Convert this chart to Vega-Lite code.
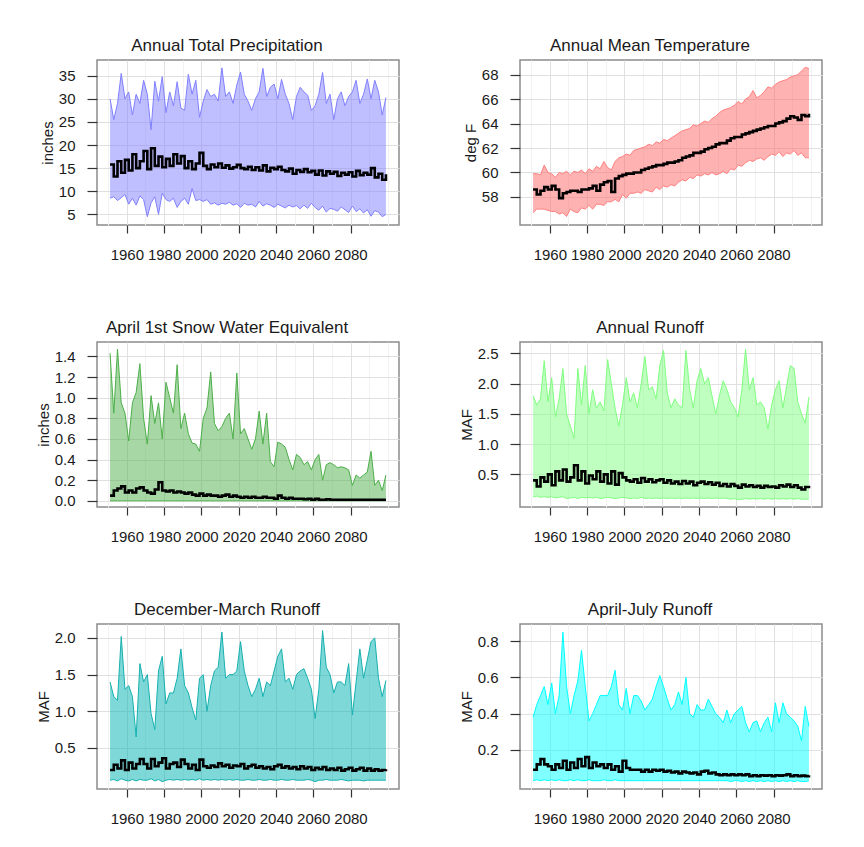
{
"$schema": "https://vega.github.io/schema/vega-lite/v6.json",
"background": "white",
"padding": {"left": 35, "top": 36, "right": 10, "bottom": 10},
"datasets": {
"pr": [
{"yr":1951,"lo":8.5,"hi":30,"md":15.8},{"yr":1953,"lo":8.8,"hi":25.5,"md":13.2},{"yr":1955,"lo":8.0,"hi":29,"md":16.5},{"yr":1957,"lo":8.6,"hi":35.5,"md":14},{"yr":1959,"lo":9.3,"hi":30,"md":16.8},{"yr":1961,"lo":7.2,"hi":31.5,"md":14.5},{"yr":1963,"lo":8.5,"hi":26.5,"md":18},{"yr":1965,"lo":7.0,"hi":31,"md":15},{"yr":1967,"lo":9.0,"hi":29,"md":16.5},{"yr":1969,"lo":8.2,"hi":34,"md":18.7},{"yr":1971,"lo":4.5,"hi":31,"md":14.8},{"yr":1973,"lo":7.5,"hi":23.3,"md":19.3},{"yr":1975,"lo":8.8,"hi":33.8,"md":15.5},{"yr":1977,"lo":5.0,"hi":29.5,"md":17.5},{"yr":1979,"lo":9.6,"hi":34.8,"md":15.2},{"yr":1981,"lo":8.2,"hi":27,"md":17},{"yr":1983,"lo":7.8,"hi":31.5,"md":15.5},{"yr":1985,"lo":8.5,"hi":28.5,"md":18},{"yr":1987,"lo":6.5,"hi":33.7,"md":16},{"yr":1989,"lo":7.8,"hi":28,"md":17.6},{"yr":1991,"lo":8.5,"hi":27.5,"md":15},{"yr":1993,"lo":7.2,"hi":35.3,"md":16.5},{"yr":1995,"lo":10.6,"hi":31,"md":14.8},{"yr":1997,"lo":8,"hi":34,"md":16},{"yr":1999,"lo":8.2,"hi":26,"md":18.3},{"yr":2001,"lo":7.8,"hi":29.5,"md":15.5},{"yr":2003,"lo":8.2,"hi":32,"md":14.8},{"yr":2005,"lo":7.2,"hi":30.5,"md":15.8},{"yr":2007,"lo":7.5,"hi":31,"md":15.2},{"yr":2009,"lo":7.0,"hi":29.5,"md":16},{"yr":2011,"lo":7.4,"hi":36.7,"md":15.1},{"yr":2013,"lo":7.2,"hi":30.5,"md":15.6},{"yr":2015,"lo":7.6,"hi":31.5,"md":14.9},{"yr":2017,"lo":7.0,"hi":29,"md":15.2},{"yr":2019,"lo":7.3,"hi":33,"md":15.7},{"yr":2021,"lo":6.5,"hi":35.8,"md":15},{"yr":2023,"lo":7.4,"hi":31,"md":14.8},{"yr":2025,"lo":7.0,"hi":29.5,"md":15.3},{"yr":2027,"lo":7.2,"hi":27.5,"md":14.6},{"yr":2029,"lo":6.6,"hi":30,"md":15.2},{"yr":2031,"lo":7.8,"hi":31.5,"md":14.5},{"yr":2033,"lo":6.8,"hi":36.6,"md":15.6},{"yr":2035,"lo":7.3,"hi":30.5,"md":14.3},{"yr":2037,"lo":7.0,"hi":32.5,"md":15.1},{"yr":2039,"lo":6.5,"hi":33.2,"md":14.8},{"yr":2041,"lo":7.2,"hi":30,"md":15.3},{"yr":2043,"lo":6.8,"hi":34.2,"md":14.6},{"yr":2045,"lo":6.4,"hi":31,"md":14.3},{"yr":2047,"lo":7.0,"hi":29,"md":14.9},{"yr":2049,"lo":6.6,"hi":25.5,"md":13.8},{"yr":2051,"lo":6.9,"hi":30.5,"md":14.6},{"yr":2053,"lo":6.2,"hi":32.5,"md":14.2},{"yr":2055,"lo":7.0,"hi":31.5,"md":14.8},{"yr":2057,"lo":6.3,"hi":30.8,"md":14.1},{"yr":2059,"lo":7.4,"hi":27.5,"md":14.4},{"yr":2061,"lo":6.5,"hi":28.5,"md":13.6},{"yr":2063,"lo":5.9,"hi":31,"md":14.5},{"yr":2065,"lo":6.8,"hi":35.7,"md":13.4},{"yr":2067,"lo":5.5,"hi":29,"md":14.3},{"yr":2069,"lo":6.3,"hi":31,"md":13.8},{"yr":2071,"lo":6.1,"hi":25.5,"md":14.2},{"yr":2073,"lo":5.7,"hi":30,"md":13.3},{"yr":2075,"lo":6.6,"hi":31.5,"md":14},{"yr":2077,"lo":6.0,"hi":28.5,"md":13.6},{"yr":2079,"lo":5.4,"hi":30.5,"md":14.1},{"yr":2081,"lo":6.8,"hi":31.5,"md":13.2},{"yr":2083,"lo":5.6,"hi":34,"md":14.4},{"yr":2085,"lo":6.2,"hi":29,"md":13.5},{"yr":2087,"lo":5.3,"hi":31,"md":14},{"yr":2089,"lo":6.0,"hi":34.3,"md":13.6},{"yr":2091,"lo":4.6,"hi":30,"md":15},{"yr":2093,"lo":5.8,"hi":34,"md":13},{"yr":2095,"lo":5.5,"hi":31.5,"md":13.8},{"yr":2097,"lo":4.5,"hi":26.5,"md":12.5},{"yr":2099,"lo":5.0,"hi":30.3,"md":13.7}
],
"tm": [
{"yr":1951,"lo":56.7,"hi":59.9,"md":58.6},{"yr":1953,"lo":57.0,"hi":59.9,"md":58.2},{"yr":1955,"lo":57.0,"hi":59.8,"md":58.5},{"yr":1957,"lo":57.0,"hi":60.6,"md":58.8},{"yr":1959,"lo":56.9,"hi":60.0,"md":58.6},{"yr":1961,"lo":56.8,"hi":59.9,"md":58.9},{"yr":1963,"lo":56.8,"hi":59.6,"md":58.6},{"yr":1965,"lo":56.6,"hi":60.0,"md":57.9},{"yr":1967,"lo":56.7,"hi":59.9,"md":58.3},{"yr":1969,"lo":56.4,"hi":60.1,"md":58.4},{"yr":1971,"lo":57.0,"hi":59.8,"md":58.5},{"yr":1973,"lo":56.8,"hi":60.1,"md":58.5},{"yr":1975,"lo":56.7,"hi":60.0,"md":58.4},{"yr":1977,"lo":57.1,"hi":60.2,"md":58.6},{"yr":1979,"lo":57.0,"hi":59.9,"md":58.6},{"yr":1981,"lo":57.3,"hi":60.3,"md":58.7},{"yr":1983,"lo":57.0,"hi":60.1,"md":58.9},{"yr":1985,"lo":57.4,"hi":60.5,"md":58.5},{"yr":1987,"lo":57.4,"hi":60.3,"md":59.0},{"yr":1989,"lo":57.3,"hi":60.9,"md":59.2},{"yr":1991,"lo":57.6,"hi":60.4,"md":59.3},{"yr":1993,"lo":57.6,"hi":60.2,"md":58.4},{"yr":1995,"lo":57.8,"hi":60.9,"md":59.5},{"yr":1997,"lo":57.6,"hi":61.2,"md":59.7},{"yr":1999,"lo":58.2,"hi":61.3,"md":59.8},{"yr":2001,"lo":57.9,"hi":61.5,"md":59.9},{"yr":2003,"lo":58.3,"hi":61.4,"md":59.9},{"yr":2005,"lo":58.3,"hi":61.8,"md":60.0},{"yr":2007,"lo":58.4,"hi":61.9,"md":60.0},{"yr":2009,"lo":58.3,"hi":62.0,"md":60.2},{"yr":2011,"lo":58.6,"hi":62.1,"md":60.3},{"yr":2013,"lo":58.5,"hi":62.3,"md":60.4},{"yr":2015,"lo":58.4,"hi":62.2,"md":60.5},{"yr":2017,"lo":58.8,"hi":62.5,"md":60.6},{"yr":2019,"lo":58.6,"hi":62.4,"md":60.6},{"yr":2021,"lo":58.9,"hi":62.7,"md":60.7},{"yr":2023,"lo":58.8,"hi":62.6,"md":60.8},{"yr":2025,"lo":59.0,"hi":62.8,"md":60.8},{"yr":2027,"lo":58.9,"hi":63.0,"md":60.9},{"yr":2029,"lo":59.2,"hi":63.2,"md":61.0},{"yr":2031,"lo":59.4,"hi":63.4,"md":61.2},{"yr":2033,"lo":59.3,"hi":63.5,"md":61.3},{"yr":2035,"lo":59.6,"hi":63.6,"md":61.4},{"yr":2037,"lo":59.5,"hi":63.9,"md":61.6},{"yr":2039,"lo":59.8,"hi":63.8,"md":61.6},{"yr":2041,"lo":59.7,"hi":64.0,"md":61.7},{"yr":2043,"lo":59.9,"hi":64.2,"md":61.9},{"yr":2045,"lo":59.8,"hi":64.1,"md":62.0},{"yr":2047,"lo":60.0,"hi":64.4,"md":62.1},{"yr":2049,"lo":59.8,"hi":64.6,"md":62.3},{"yr":2051,"lo":59.9,"hi":64.9,"md":62.4},{"yr":2053,"lo":60.1,"hi":65.1,"md":62.4},{"yr":2055,"lo":59.9,"hi":65.2,"md":62.6},{"yr":2057,"lo":60.3,"hi":65.3,"md":62.8},{"yr":2059,"lo":60.2,"hi":65.5,"md":62.9},{"yr":2061,"lo":60.6,"hi":65.8,"md":62.9},{"yr":2063,"lo":60.5,"hi":65.6,"md":63.1},{"yr":2065,"lo":60.8,"hi":66.0,"md":63.2},{"yr":2067,"lo":61.0,"hi":66.2,"md":63.3},{"yr":2069,"lo":60.9,"hi":66.7,"md":63.4},{"yr":2071,"lo":61.1,"hi":66.1,"md":63.5},{"yr":2073,"lo":61.2,"hi":66.3,"md":63.6},{"yr":2075,"lo":61.0,"hi":66.6,"md":63.7},{"yr":2077,"lo":61.3,"hi":67.0,"md":63.8},{"yr":2079,"lo":61.5,"hi":66.9,"md":63.8},{"yr":2081,"lo":61.4,"hi":67.2,"md":64.0},{"yr":2083,"lo":61.7,"hi":67.4,"md":64.1},{"yr":2085,"lo":61.3,"hi":67.5,"md":64.2},{"yr":2087,"lo":61.6,"hi":67.6,"md":64.4},{"yr":2089,"lo":61.5,"hi":67.8,"md":64.6},{"yr":2091,"lo":61.8,"hi":67.9,"md":64.5},{"yr":2093,"lo":61.4,"hi":68.0,"md":64.3},{"yr":2095,"lo":61.6,"hi":68.3,"md":64.7},{"yr":2097,"lo":61.2,"hi":68.6,"md":64.6},{"yr":2099,"lo":61.2,"hi":68.5,"md":64.8}
],
"sw": [
{"yr":1951,"lo":0,"hi":1.43,"md":0.05},{"yr":1953,"lo":0,"hi":0.85,"md":0.10},{"yr":1955,"lo":0,"hi":1.47,"md":0.12},{"yr":1957,"lo":0,"hi":0.95,"md":0.14},{"yr":1959,"lo":0,"hi":0.85,"md":0.08},{"yr":1961,"lo":0,"hi":0.58,"md":0.10},{"yr":1963,"lo":0,"hi":0.95,"md":0.08},{"yr":1965,"lo":0,"hi":1.05,"md":0.12},{"yr":1967,"lo":0,"hi":1.33,"md":0.13},{"yr":1969,"lo":0,"hi":0.8,"md":0.10},{"yr":1971,"lo":0,"hi":0.55,"md":0.08},{"yr":1973,"lo":0,"hi":1.02,"md":0.07},{"yr":1975,"lo":0,"hi":0.75,"md":0.11},{"yr":1977,"lo":0,"hi":0.95,"md":0.18},{"yr":1979,"lo":0,"hi":0.6,"md":0.10},{"yr":1981,"lo":0,"hi":1.15,"md":0.09},{"yr":1983,"lo":0,"hi":1.0,"md":0.10},{"yr":1985,"lo":0,"hi":0.85,"md":0.08},{"yr":1987,"lo":0,"hi":1.32,"md":0.09},{"yr":1989,"lo":0,"hi":0.7,"md":0.08},{"yr":1991,"lo":0,"hi":0.85,"md":0.07},{"yr":1993,"lo":0,"hi":0.65,"md":0.08},{"yr":1995,"lo":0,"hi":0.56,"md":0.06},{"yr":1997,"lo":0,"hi":0.55,"md":0.05},{"yr":1999,"lo":0,"hi":0.48,"md":0.07},{"yr":2001,"lo":0,"hi":0.8,"md":0.05},{"yr":2003,"lo":0,"hi":0.9,"md":0.06},{"yr":2005,"lo":0,"hi":1.25,"md":0.05},{"yr":2007,"lo":0,"hi":0.75,"md":0.05},{"yr":2009,"lo":0,"hi":0.68,"md":0.04},{"yr":2011,"lo":0,"hi":0.72,"md":0.05},{"yr":2013,"lo":0,"hi":0.8,"md":0.06},{"yr":2015,"lo":0,"hi":0.85,"md":0.04},{"yr":2017,"lo":0,"hi":0.6,"md":0.05},{"yr":2019,"lo":0,"hi":1.24,"md":0.04},{"yr":2021,"lo":0,"hi":0.65,"md":0.03},{"yr":2023,"lo":0,"hi":0.7,"md":0.04},{"yr":2025,"lo":0,"hi":0.6,"md":0.03},{"yr":2027,"lo":0,"hi":0.5,"md":0.04},{"yr":2029,"lo":0,"hi":0.6,"md":0.03},{"yr":2031,"lo":0,"hi":0.87,"md":0.03},{"yr":2033,"lo":0,"hi":0.55,"md":0.04},{"yr":2035,"lo":0,"hi":0.85,"md":0.03},{"yr":2037,"lo":0,"hi":0.38,"md":0.03},{"yr":2039,"lo":0,"hi":0.33,"md":0.02},{"yr":2041,"lo":0,"hi":0.57,"md":0.05},{"yr":2043,"lo":0,"hi":0.55,"md":0.03},{"yr":2045,"lo":0,"hi":0.52,"md":0.02},{"yr":2047,"lo":0,"hi":0.4,"md":0.03},{"yr":2049,"lo":0,"hi":0.3,"md":0.02},{"yr":2051,"lo":0,"hi":0.45,"md":0.02},{"yr":2053,"lo":0,"hi":0.42,"md":0.02},{"yr":2055,"lo":0,"hi":0.35,"md":0.015},{"yr":2057,"lo":0,"hi":0.38,"md":0.02},{"yr":2059,"lo":0,"hi":0.3,"md":0.01},{"yr":2061,"lo":0,"hi":0.4,"md":0.02},{"yr":2063,"lo":0,"hi":0.45,"md":0.01},{"yr":2065,"lo":0,"hi":0.2,"md":0.01},{"yr":2067,"lo":0,"hi":0.35,"md":0.015},{"yr":2069,"lo":0,"hi":0.37,"md":0.01},{"yr":2071,"lo":0,"hi":0.35,"md":0.01},{"yr":2073,"lo":0,"hi":0.32,"md":0.01},{"yr":2075,"lo":0,"hi":0.33,"md":0.01},{"yr":2077,"lo":0,"hi":0.32,"md":0.01},{"yr":2079,"lo":0,"hi":0.3,"md":0.01},{"yr":2081,"lo":0,"hi":0.15,"md":0.01},{"yr":2083,"lo":0,"hi":0.25,"md":0.01},{"yr":2085,"lo":0,"hi":0.22,"md":0.01},{"yr":2087,"lo":0,"hi":0.25,"md":0.01},{"yr":2089,"lo":0,"hi":0.28,"md":0.01},{"yr":2091,"lo":0,"hi":0.48,"md":0.01},{"yr":2093,"lo":0,"hi":0.15,"md":0.01},{"yr":2095,"lo":0,"hi":0.2,"md":0.01},{"yr":2097,"lo":0,"hi":0.1,"md":0.01},{"yr":2099,"lo":0,"hi":0.25,"md":0.01}
],
"ar": [
{"yr":1951,"lo":0.13,"hi":1.8,"md":0.40},{"yr":1953,"lo":0.14,"hi":1.65,"md":0.30},{"yr":1955,"lo":0.12,"hi":1.75,"md":0.45},{"yr":1957,"lo":0.13,"hi":2.38,"md":0.38},{"yr":1959,"lo":0.12,"hi":1.7,"md":0.50},{"yr":1961,"lo":0.13,"hi":2.1,"md":0.32},{"yr":1963,"lo":0.11,"hi":1.45,"md":0.55},{"yr":1965,"lo":0.12,"hi":1.75,"md":0.40},{"yr":1967,"lo":0.13,"hi":2.25,"md":0.58},{"yr":1969,"lo":0.10,"hi":1.5,"md":0.38},{"yr":1971,"lo":0.11,"hi":1.3,"md":0.45},{"yr":1973,"lo":0.12,"hi":1.1,"md":0.65},{"yr":1975,"lo":0.10,"hi":2.25,"md":0.40},{"yr":1977,"lo":0.12,"hi":1.65,"md":0.55},{"yr":1979,"lo":0.11,"hi":2.3,"md":0.35},{"yr":1981,"lo":0.12,"hi":1.5,"md":0.48},{"yr":1983,"lo":0.11,"hi":1.9,"md":0.42},{"yr":1985,"lo":0.12,"hi":1.6,"md":0.55},{"yr":1987,"lo":0.10,"hi":1.7,"md":0.38},{"yr":1989,"lo":0.11,"hi":1.55,"md":0.50},{"yr":1991,"lo":0.12,"hi":2.4,"md":0.35},{"yr":1993,"lo":0.11,"hi":2.0,"md":0.55},{"yr":1995,"lo":0.10,"hi":1.6,"md":0.33},{"yr":1997,"lo":0.11,"hi":1.3,"md":0.52},{"yr":1999,"lo":0.12,"hi":1.65,"md":0.45},{"yr":2001,"lo":0.11,"hi":2.1,"md":0.40},{"yr":2003,"lo":0.10,"hi":1.7,"md":0.38},{"yr":2005,"lo":0.11,"hi":1.85,"md":0.42},{"yr":2007,"lo":0.10,"hi":1.6,"md":0.36},{"yr":2009,"lo":0.12,"hi":2.0,"md":0.44},{"yr":2011,"lo":0.10,"hi":2.45,"md":0.38},{"yr":2013,"lo":0.11,"hi":1.9,"md":0.42},{"yr":2015,"lo":0.10,"hi":1.95,"md":0.37},{"yr":2017,"lo":0.11,"hi":1.75,"md":0.40},{"yr":2019,"lo":0.10,"hi":2.3,"md":0.42},{"yr":2021,"lo":0.11,"hi":2.55,"md":0.36},{"yr":2023,"lo":0.10,"hi":1.85,"md":0.40},{"yr":2025,"lo":0.11,"hi":1.6,"md":0.35},{"yr":2027,"lo":0.10,"hi":1.75,"md":0.38},{"yr":2029,"lo":0.11,"hi":1.65,"md":0.34},{"yr":2031,"lo":0.10,"hi":1.6,"md":0.39},{"yr":2033,"lo":0.11,"hi":2.55,"md":0.35},{"yr":2035,"lo":0.10,"hi":1.9,"md":0.38},{"yr":2037,"lo":0.11,"hi":1.6,"md":0.32},{"yr":2039,"lo":0.10,"hi":2.05,"md":0.36},{"yr":2041,"lo":0.11,"hi":2.25,"md":0.38},{"yr":2043,"lo":0.10,"hi":2.0,"md":0.34},{"yr":2045,"lo":0.11,"hi":2.1,"md":0.37},{"yr":2047,"lo":0.10,"hi":1.8,"md":0.33},{"yr":2049,"lo":0.11,"hi":1.5,"md":0.36},{"yr":2051,"lo":0.10,"hi":1.8,"md":0.31},{"yr":2053,"lo":0.11,"hi":2.05,"md":0.34},{"yr":2055,"lo":0.10,"hi":1.9,"md":0.30},{"yr":2057,"lo":0.09,"hi":1.7,"md":0.34},{"yr":2059,"lo":0.10,"hi":1.6,"md":0.31},{"yr":2061,"lo":0.08,"hi":1.45,"md":0.28},{"yr":2063,"lo":0.09,"hi":1.9,"md":0.33},{"yr":2065,"lo":0.10,"hi":2.57,"md":0.30},{"yr":2067,"lo":0.09,"hi":1.9,"md":0.32},{"yr":2069,"lo":0.10,"hi":2.1,"md":0.29},{"yr":2071,"lo":0.09,"hi":1.65,"md":0.31},{"yr":2073,"lo":0.10,"hi":1.7,"md":0.28},{"yr":2075,"lo":0.09,"hi":1.6,"md":0.31},{"yr":2077,"lo":0.10,"hi":1.25,"md":0.29},{"yr":2079,"lo":0.09,"hi":1.65,"md":0.30},{"yr":2081,"lo":0.10,"hi":1.9,"md":0.28},{"yr":2083,"lo":0.09,"hi":2.05,"md":0.32},{"yr":2085,"lo":0.10,"hi":1.6,"md":0.30},{"yr":2087,"lo":0.09,"hi":1.95,"md":0.33},{"yr":2089,"lo":0.10,"hi":2.3,"md":0.29},{"yr":2091,"lo":0.09,"hi":2.25,"md":0.32},{"yr":2093,"lo":0.10,"hi":1.7,"md":0.28},{"yr":2095,"lo":0.09,"hi":1.5,"md":0.25},{"yr":2097,"lo":0.09,"hi":1.35,"md":0.29},{"yr":2099,"lo":0.09,"hi":1.78,"md":0.31}
],
"dm": [
{"yr":1951,"lo":0.06,"hi":1.4,"md":0.20},{"yr":1953,"lo":0.07,"hi":1.2,"md":0.27},{"yr":1955,"lo":0.05,"hi":1.15,"md":0.22},{"yr":1957,"lo":0.08,"hi":2.02,"md":0.33},{"yr":1959,"lo":0.06,"hi":1.3,"md":0.20},{"yr":1961,"lo":0.05,"hi":1.35,"md":0.30},{"yr":1963,"lo":0.07,"hi":1.2,"md":0.22},{"yr":1965,"lo":0.05,"hi":0.65,"md":0.28},{"yr":1967,"lo":0.07,"hi":1.65,"md":0.35},{"yr":1969,"lo":0.06,"hi":1.4,"md":0.28},{"yr":1971,"lo":0.06,"hi":1.5,"md":0.22},{"yr":1973,"lo":0.08,"hi":0.97,"md":0.35},{"yr":1975,"lo":0.05,"hi":0.75,"md":0.25},{"yr":1977,"lo":0.07,"hi":1.55,"md":0.30},{"yr":1979,"lo":0.04,"hi":1.75,"md":0.36},{"yr":1981,"lo":0.06,"hi":1.1,"md":0.22},{"yr":1983,"lo":0.07,"hi":1.25,"md":0.28},{"yr":1985,"lo":0.06,"hi":1.25,"md":0.30},{"yr":1987,"lo":0.07,"hi":1.45,"md":0.24},{"yr":1989,"lo":0.06,"hi":1.85,"md":0.34},{"yr":1991,"lo":0.07,"hi":1.35,"md":0.28},{"yr":1993,"lo":0.06,"hi":1.25,"md":0.22},{"yr":1995,"lo":0.07,"hi":1.05,"md":0.27},{"yr":1997,"lo":0.06,"hi":0.88,"md":0.20},{"yr":1999,"lo":0.08,"hi":1.45,"md":0.34},{"yr":2001,"lo":0.06,"hi":1.5,"md":0.25},{"yr":2003,"lo":0.07,"hi":1.0,"md":0.23},{"yr":2005,"lo":0.06,"hi":1.35,"md":0.26},{"yr":2007,"lo":0.07,"hi":1.55,"md":0.24},{"yr":2009,"lo":0.06,"hi":1.6,"md":0.29},{"yr":2011,"lo":0.07,"hi":2.08,"md":0.25},{"yr":2013,"lo":0.06,"hi":1.45,"md":0.27},{"yr":2015,"lo":0.07,"hi":1.5,"md":0.23},{"yr":2017,"lo":0.06,"hi":1.5,"md":0.26},{"yr":2019,"lo":0.07,"hi":1.55,"md":0.25},{"yr":2021,"lo":0.06,"hi":1.95,"md":0.28},{"yr":2023,"lo":0.06,"hi":1.55,"md":0.22},{"yr":2025,"lo":0.07,"hi":1.35,"md":0.25},{"yr":2027,"lo":0.06,"hi":1.2,"md":0.27},{"yr":2029,"lo":0.06,"hi":1.3,"md":0.23},{"yr":2031,"lo":0.07,"hi":1.45,"md":0.25},{"yr":2033,"lo":0.06,"hi":1.2,"md":0.22},{"yr":2035,"lo":0.06,"hi":1.4,"md":0.24},{"yr":2037,"lo":0.07,"hi":1.35,"md":0.21},{"yr":2039,"lo":0.06,"hi":1.55,"md":0.25},{"yr":2041,"lo":0.06,"hi":1.75,"md":0.27},{"yr":2043,"lo":0.07,"hi":1.85,"md":0.23},{"yr":2045,"lo":0.06,"hi":1.4,"md":0.25},{"yr":2047,"lo":0.06,"hi":1.45,"md":0.22},{"yr":2049,"lo":0.07,"hi":1.3,"md":0.24},{"yr":2051,"lo":0.06,"hi":1.5,"md":0.21},{"yr":2053,"lo":0.06,"hi":1.55,"md":0.25},{"yr":2055,"lo":0.06,"hi":1.58,"md":0.22},{"yr":2057,"lo":0.07,"hi":1.45,"md":0.24},{"yr":2059,"lo":0.06,"hi":1.3,"md":0.20},{"yr":2061,"lo":0.04,"hi":0.9,"md":0.23},{"yr":2063,"lo":0.06,"hi":1.3,"md":0.21},{"yr":2065,"lo":0.06,"hi":2.1,"md":0.24},{"yr":2067,"lo":0.07,"hi":1.6,"md":0.20},{"yr":2069,"lo":0.06,"hi":1.5,"md":0.22},{"yr":2071,"lo":0.06,"hi":1.25,"md":0.20},{"yr":2073,"lo":0.06,"hi":1.4,"md":0.23},{"yr":2075,"lo":0.07,"hi":1.4,"md":0.19},{"yr":2077,"lo":0.06,"hi":1.35,"md":0.21},{"yr":2079,"lo":0.05,"hi":1.65,"md":0.23},{"yr":2081,"lo":0.06,"hi":0.95,"md":0.19},{"yr":2083,"lo":0.06,"hi":1.4,"md":0.21},{"yr":2085,"lo":0.06,"hi":1.85,"md":0.23},{"yr":2087,"lo":0.05,"hi":1.45,"md":0.19},{"yr":2089,"lo":0.06,"hi":1.7,"md":0.22},{"yr":2091,"lo":0.06,"hi":1.95,"md":0.19},{"yr":2093,"lo":0.06,"hi":2.0,"md":0.21},{"yr":2095,"lo":0.06,"hi":1.45,"md":0.19},{"yr":2097,"lo":0.06,"hi":1.2,"md":0.20},{"yr":2099,"lo":0.06,"hi":1.42,"md":0.21}
],
"aj": [
{"yr":1951,"lo":0.03,"hi":0.38,"md":0.09},{"yr":1953,"lo":0.035,"hi":0.45,"md":0.12},{"yr":1955,"lo":0.03,"hi":0.5,"md":0.15},{"yr":1957,"lo":0.035,"hi":0.55,"md":0.12},{"yr":1959,"lo":0.03,"hi":0.45,"md":0.11},{"yr":1961,"lo":0.035,"hi":0.57,"md":0.09},{"yr":1963,"lo":0.03,"hi":0.4,"md":0.12},{"yr":1965,"lo":0.035,"hi":0.5,"md":0.10},{"yr":1967,"lo":0.03,"hi":0.85,"md":0.14},{"yr":1969,"lo":0.03,"hi":0.55,"md":0.09},{"yr":1971,"lo":0.035,"hi":0.4,"md":0.13},{"yr":1973,"lo":0.03,"hi":0.5,"md":0.10},{"yr":1975,"lo":0.035,"hi":0.58,"md":0.15},{"yr":1977,"lo":0.03,"hi":0.75,"md":0.11},{"yr":1979,"lo":0.03,"hi":0.55,"md":0.16},{"yr":1981,"lo":0.035,"hi":0.36,"md":0.10},{"yr":1983,"lo":0.03,"hi":0.4,"md":0.13},{"yr":1985,"lo":0.03,"hi":0.45,"md":0.11},{"yr":1987,"lo":0.03,"hi":0.5,"md":0.12},{"yr":1989,"lo":0.035,"hi":0.5,"md":0.10},{"yr":1991,"lo":0.03,"hi":0.5,"md":0.12},{"yr":1993,"lo":0.03,"hi":0.55,"md":0.09},{"yr":1995,"lo":0.035,"hi":0.64,"md":0.11},{"yr":1997,"lo":0.03,"hi":0.45,"md":0.08},{"yr":1999,"lo":0.03,"hi":0.42,"md":0.14},{"yr":2001,"lo":0.03,"hi":0.54,"md":0.10},{"yr":2003,"lo":0.03,"hi":0.4,"md":0.09},{"yr":2005,"lo":0.03,"hi":0.5,"md":0.09},{"yr":2007,"lo":0.03,"hi":0.5,"md":0.09},{"yr":2009,"lo":0.03,"hi":0.47,"md":0.08},{"yr":2011,"lo":0.03,"hi":0.42,"md":0.09},{"yr":2013,"lo":0.03,"hi":0.45,"md":0.08},{"yr":2015,"lo":0.03,"hi":0.48,"md":0.09},{"yr":2017,"lo":0.03,"hi":0.55,"md":0.085},{"yr":2019,"lo":0.03,"hi":0.61,"md":0.09},{"yr":2021,"lo":0.03,"hi":0.55,"md":0.08},{"yr":2023,"lo":0.03,"hi":0.48,"md":0.085},{"yr":2025,"lo":0.03,"hi":0.42,"md":0.075},{"yr":2027,"lo":0.03,"hi":0.45,"md":0.08},{"yr":2029,"lo":0.03,"hi":0.52,"md":0.07},{"yr":2031,"lo":0.03,"hi":0.45,"md":0.08},{"yr":2033,"lo":0.03,"hi":0.6,"md":0.075},{"yr":2035,"lo":0.03,"hi":0.4,"md":0.07},{"yr":2037,"lo":0.03,"hi":0.38,"md":0.075},{"yr":2039,"lo":0.03,"hi":0.45,"md":0.065},{"yr":2041,"lo":0.03,"hi":0.42,"md":0.08},{"yr":2043,"lo":0.03,"hi":0.42,"md":0.085},{"yr":2045,"lo":0.03,"hi":0.48,"md":0.07},{"yr":2047,"lo":0.03,"hi":0.44,"md":0.075},{"yr":2049,"lo":0.03,"hi":0.4,"md":0.065},{"yr":2051,"lo":0.03,"hi":0.38,"md":0.06},{"yr":2053,"lo":0.03,"hi":0.35,"md":0.065},{"yr":2055,"lo":0.03,"hi":0.42,"md":0.06},{"yr":2057,"lo":0.025,"hi":0.35,"md":0.065},{"yr":2059,"lo":0.03,"hi":0.4,"md":0.06},{"yr":2061,"lo":0.03,"hi":0.42,"md":0.065},{"yr":2063,"lo":0.025,"hi":0.44,"md":0.06},{"yr":2065,"lo":0.03,"hi":0.35,"md":0.065},{"yr":2067,"lo":0.025,"hi":0.3,"md":0.055},{"yr":2069,"lo":0.03,"hi":0.35,"md":0.06},{"yr":2071,"lo":0.025,"hi":0.36,"md":0.055},{"yr":2073,"lo":0.03,"hi":0.3,"md":0.06},{"yr":2075,"lo":0.025,"hi":0.35,"md":0.058},{"yr":2077,"lo":0.03,"hi":0.38,"md":0.06},{"yr":2079,"lo":0.025,"hi":0.3,"md":0.055},{"yr":2081,"lo":0.03,"hi":0.46,"md":0.06},{"yr":2083,"lo":0.025,"hi":0.35,"md":0.058},{"yr":2085,"lo":0.03,"hi":0.46,"md":0.06},{"yr":2087,"lo":0.025,"hi":0.4,"md":0.065},{"yr":2089,"lo":0.03,"hi":0.38,"md":0.055},{"yr":2091,"lo":0.025,"hi":0.36,"md":0.06},{"yr":2093,"lo":0.03,"hi":0.33,"md":0.055},{"yr":2095,"lo":0.025,"hi":0.25,"md":0.058},{"yr":2097,"lo":0.025,"hi":0.44,"md":0.055},{"yr":2099,"lo":0.03,"hi":0.33,"md":0.06}
]
},
"columns": 2,
"spacing": {"row": 55, "column": 58},
"concat": [
{
"title": "Annual Total Precipitation",
"width": 302, "height": 165,
"data": {"name": "pr"},
"resolve": {"axis": {"y": "independent"}},
"encoding": {"x": {"field": "yr", "type": "quantitative", "title": null, "scale": {"domain": [1944, 2106], "nice": false, "zero": false},
  "axis": {"values": [1950,1960,1970,1980,1990,2000,2010,2020,2030,2040,2050,2060,2070,2080,2090,2100], "format": "d", "labelOverlap": false,
   "labelExpr": "datum.value % 20 == 0 && datum.value <= 2080 ? datum.label : ''",
   "tickOpacity": {"condition": {"test": "datum.value % 20 == 0 && datum.value <= 2080", "value": 1}, "value": 0},
   "gridColor": {"condition": {"test": "datum.value % 20 == 0 && datum.value <= 2080", "value": "#e0e0e0"}, "value": "#f2f2f2"}}}},
"layer": [
 {"mark": {"type": "area", "color": "#8080ff", "fillOpacity": 0.5},
  "encoding": {"y": {"field": "lo", "type": "quantitative", "title": "inches", "scale": {"domain": [2.7, 38.4], "nice": false, "zero": false},
   "axis": {"values": [5,10,15,20,25,30,35], "format": "d", "gridColor": "#e0e0e0", "orient": "left"}},
   "y2": {"field": "hi"}}},
 {"mark": {"type": "line", "color": "#8080ff", "strokeWidth": 1}, "encoding": {"y": {"field": "hi", "type": "quantitative", "axis": {"values": [7.5,12.5,17.5,22.5,27.5,32.5,37.5], "labels": false, "ticks": false, "domain": false, "title": null, "gridColor": "#f2f2f2", "orient": "right"}}}},
 {"mark": {"type": "line", "color": "#8080ff", "strokeWidth": 1}, "encoding": {"y": {"field": "lo", "type": "quantitative", "axis": null}}},
 {"mark": {"type": "line", "interpolate": "step-after", "color": "#000000", "strokeWidth": 2.6}, "encoding": {"y": {"field": "md", "type": "quantitative", "axis": null}}}
]
},
{
"title": "Annual Mean Temperature",
"width": 302, "height": 165,
"data": {"name": "tm"},
"resolve": {"axis": {"y": "independent"}},
"encoding": {"x": {"field": "yr", "type": "quantitative", "title": null, "scale": {"domain": [1944, 2106], "nice": false, "zero": false},
  "axis": {"values": [1950,1960,1970,1980,1990,2000,2010,2020,2030,2040,2050,2060,2070,2080,2090,2100], "format": "d", "labelOverlap": false,
   "labelExpr": "datum.value % 20 == 0 && datum.value <= 2080 ? datum.label : ''",
   "tickOpacity": {"condition": {"test": "datum.value % 20 == 0 && datum.value <= 2080", "value": 1}, "value": 0},
   "gridColor": {"condition": {"test": "datum.value % 20 == 0 && datum.value <= 2080", "value": "#e0e0e0"}, "value": "#f2f2f2"}}}},
"layer": [
 {"mark": {"type": "area", "color": "#ff6666", "fillOpacity": 0.5},
  "encoding": {"y": {"field": "lo", "type": "quantitative", "title": "deg F", "scale": {"domain": [55.7, 69.2], "nice": false, "zero": false},
   "axis": {"values": [58,60,62,64,66,68], "format": "d", "gridColor": "#e0e0e0", "orient": "left"}},
   "y2": {"field": "hi"}}},
 {"mark": {"type": "line", "color": "#ff7f7f", "strokeWidth": 1}, "encoding": {"y": {"field": "hi", "type": "quantitative", "axis": {"values": [56,57,59,61,63,65,67,69], "labels": false, "ticks": false, "domain": false, "title": null, "gridColor": "#f2f2f2", "orient": "right"}}}},
 {"mark": {"type": "line", "color": "#ff7f7f", "strokeWidth": 1}, "encoding": {"y": {"field": "lo", "type": "quantitative", "axis": null}}},
 {"mark": {"type": "line", "interpolate": "step-after", "color": "#000000", "strokeWidth": 2.6}, "encoding": {"y": {"field": "md", "type": "quantitative", "axis": null}}}
]
},
{
"title": "April 1st Snow Water Equivalent",
"width": 302, "height": 165,
"data": {"name": "sw"},
"resolve": {"axis": {"y": "independent"}},
"encoding": {"x": {"field": "yr", "type": "quantitative", "title": null, "scale": {"domain": [1944, 2106], "nice": false, "zero": false},
  "axis": {"values": [1950,1960,1970,1980,1990,2000,2010,2020,2030,2040,2050,2060,2070,2080,2090,2100], "format": "d", "labelOverlap": false,
   "labelExpr": "datum.value % 20 == 0 && datum.value <= 2080 ? datum.label : ''",
   "tickOpacity": {"condition": {"test": "datum.value % 20 == 0 && datum.value <= 2080", "value": 1}, "value": 0},
   "gridColor": {"condition": {"test": "datum.value % 20 == 0 && datum.value <= 2080", "value": "#e0e0e0"}, "value": "#f2f2f2"}}}},
"layer": [
 {"mark": {"type": "area", "color": "#4daf4a", "fillOpacity": 0.5},
  "encoding": {"y": {"field": "lo", "type": "quantitative", "title": "inches", "scale": {"domain": [-0.06, 1.54], "nice": false, "zero": false},
   "axis": {"values": [0,0.2,0.4,0.6,0.8,1,1.2,1.4], "format": ".1f", "gridColor": "#e0e0e0", "orient": "left"}},
   "y2": {"field": "hi"}}},
 {"mark": {"type": "line", "color": "#4daf4a", "strokeWidth": 1}, "encoding": {"y": {"field": "hi", "type": "quantitative", "axis": {"values": [0.1,0.3,0.5,0.7,0.9,1.1,1.3,1.5], "labels": false, "ticks": false, "domain": false, "title": null, "gridColor": "#f2f2f2", "orient": "right"}}}},
 {"mark": {"type": "line", "color": "#4daf4a", "strokeWidth": 1}, "encoding": {"y": {"field": "lo", "type": "quantitative", "axis": null}}},
 {"mark": {"type": "line", "interpolate": "step-after", "color": "#000000", "strokeWidth": 2.6}, "encoding": {"y": {"field": "md", "type": "quantitative", "axis": null}}}
]
},
{
"title": "Annual Runoff",
"width": 302, "height": 165,
"data": {"name": "ar"},
"resolve": {"axis": {"y": "independent"}},
"encoding": {"x": {"field": "yr", "type": "quantitative", "title": null, "scale": {"domain": [1944, 2106], "nice": false, "zero": false},
  "axis": {"values": [1950,1960,1970,1980,1990,2000,2010,2020,2030,2040,2050,2060,2070,2080,2090,2100], "format": "d", "labelOverlap": false,
   "labelExpr": "datum.value % 20 == 0 && datum.value <= 2080 ? datum.label : ''",
   "tickOpacity": {"condition": {"test": "datum.value % 20 == 0 && datum.value <= 2080", "value": 1}, "value": 0},
   "gridColor": {"condition": {"test": "datum.value % 20 == 0 && datum.value <= 2080", "value": "#e0e0e0"}, "value": "#f2f2f2"}}}},
"layer": [
 {"mark": {"type": "area", "color": "#7fff7f", "fillOpacity": 0.5},
  "encoding": {"y": {"field": "lo", "type": "quantitative", "title": "MAF", "scale": {"domain": [-0.04, 2.69], "nice": false, "zero": false},
   "axis": {"values": [0.5,1,1.5,2,2.5], "format": ".1f", "gridColor": "#e0e0e0", "orient": "left"}},
   "y2": {"field": "hi"}}},
 {"mark": {"type": "line", "color": "#80ff80", "strokeWidth": 1}, "encoding": {"y": {"field": "hi", "type": "quantitative", "axis": {"values": [0,0.25,0.75,1.25,1.75,2.25], "labels": false, "ticks": false, "domain": false, "title": null, "gridColor": "#f2f2f2", "orient": "right"}}}},
 {"mark": {"type": "line", "color": "#80ff80", "strokeWidth": 1}, "encoding": {"y": {"field": "lo", "type": "quantitative", "axis": null}}},
 {"mark": {"type": "line", "interpolate": "step-after", "color": "#000000", "strokeWidth": 2.6}, "encoding": {"y": {"field": "md", "type": "quantitative", "axis": null}}}
]
},
{
"title": "December-March Runoff",
"width": 302, "height": 165,
"data": {"name": "dm"},
"resolve": {"axis": {"y": "independent"}},
"encoding": {"x": {"field": "yr", "type": "quantitative", "title": null, "scale": {"domain": [1944, 2106], "nice": false, "zero": false},
  "axis": {"values": [1950,1960,1970,1980,1990,2000,2010,2020,2030,2040,2050,2060,2070,2080,2090,2100], "format": "d", "labelOverlap": false,
   "labelExpr": "datum.value % 20 == 0 && datum.value <= 2080 ? datum.label : ''",
   "tickOpacity": {"condition": {"test": "datum.value % 20 == 0 && datum.value <= 2080", "value": 1}, "value": 0},
   "gridColor": {"condition": {"test": "datum.value % 20 == 0 && datum.value <= 2080", "value": "#e0e0e0"}, "value": "#f2f2f2"}}}},
"layer": [
 {"mark": {"type": "area", "color": "#00b2b2", "fillOpacity": 0.5},
  "encoding": {"y": {"field": "lo", "type": "quantitative", "title": "MAF", "scale": {"domain": [-0.06, 2.19], "nice": false, "zero": false},
   "axis": {"values": [0.5,1,1.5,2], "format": ".1f", "gridColor": "#e0e0e0", "orient": "left"}},
   "y2": {"field": "hi"}}},
 {"mark": {"type": "line", "color": "#17b0b0", "strokeWidth": 1}, "encoding": {"y": {"field": "hi", "type": "quantitative", "axis": {"values": [0,0.25,0.75,1.25,1.75], "labels": false, "ticks": false, "domain": false, "title": null, "gridColor": "#f2f2f2", "orient": "right"}}}},
 {"mark": {"type": "line", "color": "#17b0b0", "strokeWidth": 1}, "encoding": {"y": {"field": "lo", "type": "quantitative", "axis": null}}},
 {"mark": {"type": "line", "interpolate": "step-after", "color": "#000000", "strokeWidth": 2.6}, "encoding": {"y": {"field": "md", "type": "quantitative", "axis": null}}}
]
},
{
"title": "April-July Runoff",
"width": 302, "height": 165,
"data": {"name": "aj"},
"resolve": {"axis": {"y": "independent"}},
"encoding": {"x": {"field": "yr", "type": "quantitative", "title": null, "scale": {"domain": [1944, 2106], "nice": false, "zero": false},
  "axis": {"values": [1950,1960,1970,1980,1990,2000,2010,2020,2030,2040,2050,2060,2070,2080,2090,2100], "format": "d", "labelOverlap": false,
   "labelExpr": "datum.value % 20 == 0 && datum.value <= 2080 ? datum.label : ''",
   "tickOpacity": {"condition": {"test": "datum.value % 20 == 0 && datum.value <= 2080", "value": 1}, "value": 0},
   "gridColor": {"condition": {"test": "datum.value % 20 == 0 && datum.value <= 2080", "value": "#e0e0e0"}, "value": "#f2f2f2"}}}},
"layer": [
 {"mark": {"type": "area", "color": "#00ffff", "fillOpacity": 0.5},
  "encoding": {"y": {"field": "lo", "type": "quantitative", "title": "MAF", "scale": {"domain": [-0.016, 0.895], "nice": false, "zero": false},
   "axis": {"values": [0.2,0.4,0.6,0.8], "format": ".1f", "gridColor": "#e0e0e0", "orient": "left"}},
   "y2": {"field": "hi"}}},
 {"mark": {"type": "line", "color": "#00ffff", "strokeWidth": 1}, "encoding": {"y": {"field": "hi", "type": "quantitative", "axis": {"values": [0,0.1,0.3,0.5,0.7], "labels": false, "ticks": false, "domain": false, "title": null, "gridColor": "#f2f2f2", "orient": "right"}}}},
 {"mark": {"type": "line", "color": "#00ffff", "strokeWidth": 1}, "encoding": {"y": {"field": "lo", "type": "quantitative", "axis": null}}},
 {"mark": {"type": "line", "interpolate": "step-after", "color": "#000000", "strokeWidth": 2.6}, "encoding": {"y": {"field": "md", "type": "quantitative", "axis": null}}}
]
}
],
"config": {
 "font": "Liberation Sans",
 "view": {"stroke": "#8c8c8c", "strokeWidth": 1.5},
 "axis": {"domain": false, "labelFont": "Liberation Sans", "labelFontSize": 15, "labelColor": "#1a1a1a", "titleFont": "Liberation Sans", "titleFontSize": 15, "titleFontWeight": "normal", "titleColor": "#1a1a1a", "tickColor": "#333333", "tickWidth": 1.2, "gridWidth": 1, "labelOverlap": false, "labelFlush": false, "labelBound": false},
 "axisX": {"tickSize": 8, "labelPadding": 14},
 "axisY": {"tickSize": 10, "labelPadding": 12, "titlePadding": 3},
 "title": {"font": "Liberation Sans", "fontSize": 17, "fontWeight": "normal", "color": "#1a1a1a", "offset": 5, "dx": -21}
}
}
